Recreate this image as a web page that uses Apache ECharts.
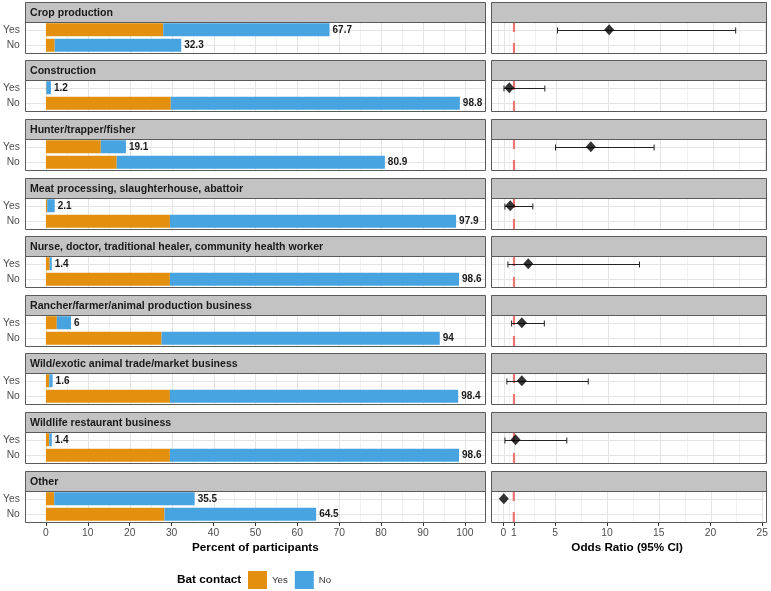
<!DOCTYPE html>
<html><head><meta charset="utf-8">
<script src="https://cdn.jsdelivr.net/npm/echarts@6/dist/echarts.min.js"></script>
<style>html,body{margin:0;padding:0;background:#fff}#c{width:771px;height:591px}</style>
</head><body><div id="c"></div>
<script>
// ---------------- data ----------------
const occupations = [
  'Crop production',
  'Construction',
  'Hunter/trapper/fisher',
  'Meat processing, slaughterhouse, abattoir',
  'Nurse, doctor, traditional healer, community health worker',
  'Rancher/farmer/animal production business',
  'Wild/exotic animal trade/market business',
  'Wildlife restaurant business',
  'Other'
];
const rowLevels = ['No', 'Yes'];
const batLevels = ['Yes', 'No'];
// percent of participants in the "Yes" row (total) and its bat-contact part
const yesRowTotal = [67.7, 1.2, 19.1, 2.1, 1.4, 6, 1.6, 1.4, 35.5];
const yesRowBat   = [28.0, 0.1, 13.1, 0.3, 0.9, 2.6, 0.8, 0.8, 2.0];
// percent of participants in the "No" row (total) and its bat-contact part
const noRowTotal  = [32.3, 98.8, 80.9, 97.9, 98.6, 94, 98.4, 98.6, 64.5];
const noRowBat    = [2.1, 29.8, 16.9, 29.6, 29.6, 27.6, 29.6, 29.6, 28.3];
// odds ratios with 95% CI
const oddsRatio = [10.1, 0.55, 8.35, 0.64, 2.36, 1.75, 1.75, 1.15, 0.04];
const ciLow     = [5.16, 0.04, 4.97, 0.13, 0.42, 0.77, 0.32, 0.13, null];
const ciHigh    = [22.2, 3.95, 14.4, 2.8, 13.0, 3.9, 8.1, 6.05, null];
const refLine = 1;
// ticks
const pctTicks = [0, 10, 20, 30, 40, 50, 60, 70, 80, 90, 100];
const pctMinor = [5, 15, 25, 35, 45, 55, 65, 75, 85, 95];
const orTicks = [0, 1, 5, 10, 15, 20, 25];
const orMinor = [-0.5, 0.5, 3, 7.5, 12.5, 17.5, 22.5];

// ---------------- style ----------------
const FONT = '"Liberation Sans", Arial, Helvetica, sans-serif';
const C_BAT_YES = '#E2900D';
const C_BAT_NO = '#48A3E1';
const C_BORDER = '#5a5a5a';
const C_STRIP = '#c3c3c3';
const C_MAJOR = '#e4e4e4';
const C_MINOR = '#f1f1f1';
const LAY = {lx: 25, lw: 460, rx: 491, rw: 275, top0: 1.7, step: 58.6, stripH: 20, panelH: 31};

const chart = echarts.init(document.getElementById('c'));
const grids = [], xAxes = [], yAxes = [], series = [], graphics = [];

function gridLineSeries(axisIdx, minor, major) {
  const data = [];
  minor.forEach(v => data.push([v, 0, 0]));
  major.forEach(v => data.push([v, 0, 1]));
  rowLevels.forEach((c, k) => data.push([major[0], k, 2]));
  return {
    type: 'custom', xAxisIndex: axisIdx, yAxisIndex: axisIdx, z: 1, silent: true,
    encode: {x: 0, y: 1},
    clip: false,
    data: data,
    renderItem(params, api) {
      const cs = params.coordSys;
      const kind = api.value(2);
      if (kind === 2) {
        const y = Math.round(api.coord([api.value(0), api.value(1)])[1]) + 0.5;
        return {type: 'line', shape: {x1: cs.x, y1: y, x2: cs.x + cs.width, y2: y}, style: {stroke: C_MAJOR, lineWidth: 1}};
      }
      const x = Math.round(api.coord([api.value(0), 0])[0]) + 0.5;
      return {type: 'line', shape: {x1: x, y1: cs.y, x2: x, y2: cs.y + cs.height},
        style: {stroke: kind === 1 ? C_MAJOR : C_MINOR, lineWidth: 1}};
    }
  };
}

const N = occupations.length;
for (let i = 0; i < N; i++) {
  const st = Math.round(LAY.top0 + LAY.step * i);
  const pt = st + LAY.stripH;
  const last = i === N - 1;
  const gl = 2 * i, gr = 2 * i + 1;

  // strips and panel borders
  [LAY.lx, LAY.rx].forEach((x, k) => {
    const w = k === 0 ? LAY.lw : LAY.rw;
    graphics.push({type: 'rect', z: 10, silent: true, shape: {x: x + 0.5, y: st + 0.5, width: w, height: LAY.stripH},
      style: {fill: C_STRIP, stroke: C_BORDER, lineWidth: 1}});
    graphics.push({type: 'rect', z: 10, silent: true, shape: {x: x + 0.5, y: pt + 0.5, width: w, height: LAY.panelH},
      style: {fill: null, stroke: C_BORDER, lineWidth: 1}});
  });
  graphics.push({type: 'text', z: 11, silent: true, x: LAY.lx + 5, y: st + LAY.stripH / 2 + 1,
    style: {text: occupations[i], font: 'bold 10.6px ' + FONT, fill: '#1a1a1a', verticalAlign: 'middle'}});

  grids.push({left: LAY.lx, top: pt, width: LAY.lw, height: LAY.panelH, show: false});
  grids.push({left: LAY.rx, top: pt, width: LAY.rw, height: LAY.panelH, show: false});

  xAxes.push({
    gridIndex: gl, type: 'value', min: -4.8, max: 104.8,
    axisLine: {show: false}, splitLine: {show: false},
    axisTick: {show: last, customValues: pctTicks, length: 4, lineStyle: {color: '#333'}},
    axisLabel: {show: last, customValues: pctTicks, color: '#4d4d4d', fontSize: 10.3, fontFamily: FONT, margin: 6},
    name: last ? 'Percent of participants' : '', nameLocation: 'middle', nameGap: 20,
    nameTextStyle: {fontWeight: 'bold', fontSize: 11.7, color: '#000', fontFamily: FONT}
  });
  xAxes.push({
    gridIndex: gr, type: 'value', min: -1.2, max: 25.1,
    axisLine: {show: false}, splitLine: {show: false},
    axisTick: {show: last, customValues: orTicks, length: 4, lineStyle: {color: '#333'}},
    axisLabel: {show: last, customValues: orTicks, color: '#4d4d4d', fontSize: 10.3, fontFamily: FONT, margin: 6},
    name: last ? 'Odds Ratio (95% CI)' : '', nameLocation: 'middle', nameGap: 20,
    nameTextStyle: {fontWeight: 'bold', fontSize: 11.7, color: '#000', fontFamily: FONT}
  });
  yAxes.push({
    gridIndex: gl, type: 'category', data: rowLevels,
    axisLine: {show: false}, splitLine: {show: false},
    axisTick: {show: true, alignWithLabel: true, length: 4, lineStyle: {color: '#333'}},
    axisLabel: {color: '#4d4d4d', fontSize: 10.3, fontFamily: FONT, margin: 6}
  });
  yAxes.push({
    gridIndex: gr, type: 'category', data: rowLevels,
    axisLine: {show: false}, splitLine: {show: false},
    axisTick: {show: false}, axisLabel: {show: false}
  });

  // gridlines
  series.push(gridLineSeries(gl, pctMinor, pctTicks));
  series.push(gridLineSeries(gr, orMinor, orTicks));

  // stacked bars
  const batYes = [noRowBat[i], yesRowBat[i]];
  const batNo = [+(noRowTotal[i] - noRowBat[i]).toFixed(2), +(yesRowTotal[i] - yesRowBat[i]).toFixed(2)];
  const totals = [noRowTotal[i], yesRowTotal[i]];
  series.push({
    type: 'bar', name: batLevels[0], xAxisIndex: gl, yAxisIndex: gl, stack: 's' + i, z: 3,
    barWidth: 13, itemStyle: {color: C_BAT_YES}, data: batYes, silent: true
  });
  series.push({
    type: 'bar', name: batLevels[1], xAxisIndex: gl, yAxisIndex: gl, stack: 's' + i, z: 3,
    barWidth: 13, itemStyle: {color: C_BAT_NO}, data: batNo, silent: true,
    label: {show: true, position: 'right', distance: 3, color: '#1a1a1a', fontSize: 10, fontWeight: 'bold',
      fontFamily: FONT, formatter: p => String(totals[p.dataIndex])}
  });

  // reference line at OR = 1
  series.push({
    type: 'custom', xAxisIndex: gr, yAxisIndex: gr, z: 3, silent: true,
    encode: {x: 0, y: 1}, data: [[refLine, 0]],
    renderItem(params, api) {
      const cs = params.coordSys;
      const x = api.coord([api.value(0), 0])[0];
      return {type: 'line', shape: {x1: x, y1: cs.y, x2: x, y2: cs.y + cs.height},
        style: {stroke: '#EE7474', lineWidth: 2.2, lineDash: [10, 11]}};
    }
  });
  // error bars
  series.push({
    type: 'custom', xAxisIndex: gr, yAxisIndex: gr, z: 4, silent: true,
    encode: {x: [0, 1], y: 2},
    data: ciLow[i] == null ? [] : [[ciLow[i], ciHigh[i], 1]],
    renderItem(params, api) {
      const a = api.coord([api.value(0), api.value(2)]);
      const b = api.coord([api.value(1), api.value(2)]);
      const y = Math.round(a[1]) + 0.5;
      const st = {stroke: '#222', lineWidth: 1};
      return {type: 'group', children: [
        {type: 'line', shape: {x1: a[0], y1: y, x2: b[0], y2: y}, style: st},
        {type: 'line', shape: {x1: a[0], y1: y - 3, x2: a[0], y2: y + 3}, style: st},
        {type: 'line', shape: {x1: b[0], y1: y - 3, x2: b[0], y2: y + 3}, style: st}
      ]};
    }
  });
  // point estimate
  series.push({
    type: 'scatter', xAxisIndex: gr, yAxisIndex: gr, z: 5, silent: true,
    symbol: 'diamond', symbolSize: [10, 11], itemStyle: {color: '#000'},
    data: [[oddsRatio[i], 1]]
  });
}

graphics.push({type: 'text', silent: true, x: 177, y: 580,
  style: {text: 'Bat contact', font: 'bold 11.8px ' + FONT, fill: '#000', verticalAlign: 'middle'}});

chart.setOption({
  animation: false,
  backgroundColor: '#fff',
  textStyle: {fontFamily: FONT},
  grid: grids, xAxis: xAxes, yAxis: yAxes, series: series,
  graphic: graphics,
  legend: {
    left: 248, top: 571, padding: 0, itemWidth: 19, itemHeight: 18, itemGap: 7, icon: 'rect', selectedMode: false,
    data: batLevels.map(n => ({name: n})),
    textStyle: {fontSize: 9.7, color: '#333', fontFamily: FONT}
  }
});
</script>
</body></html>
